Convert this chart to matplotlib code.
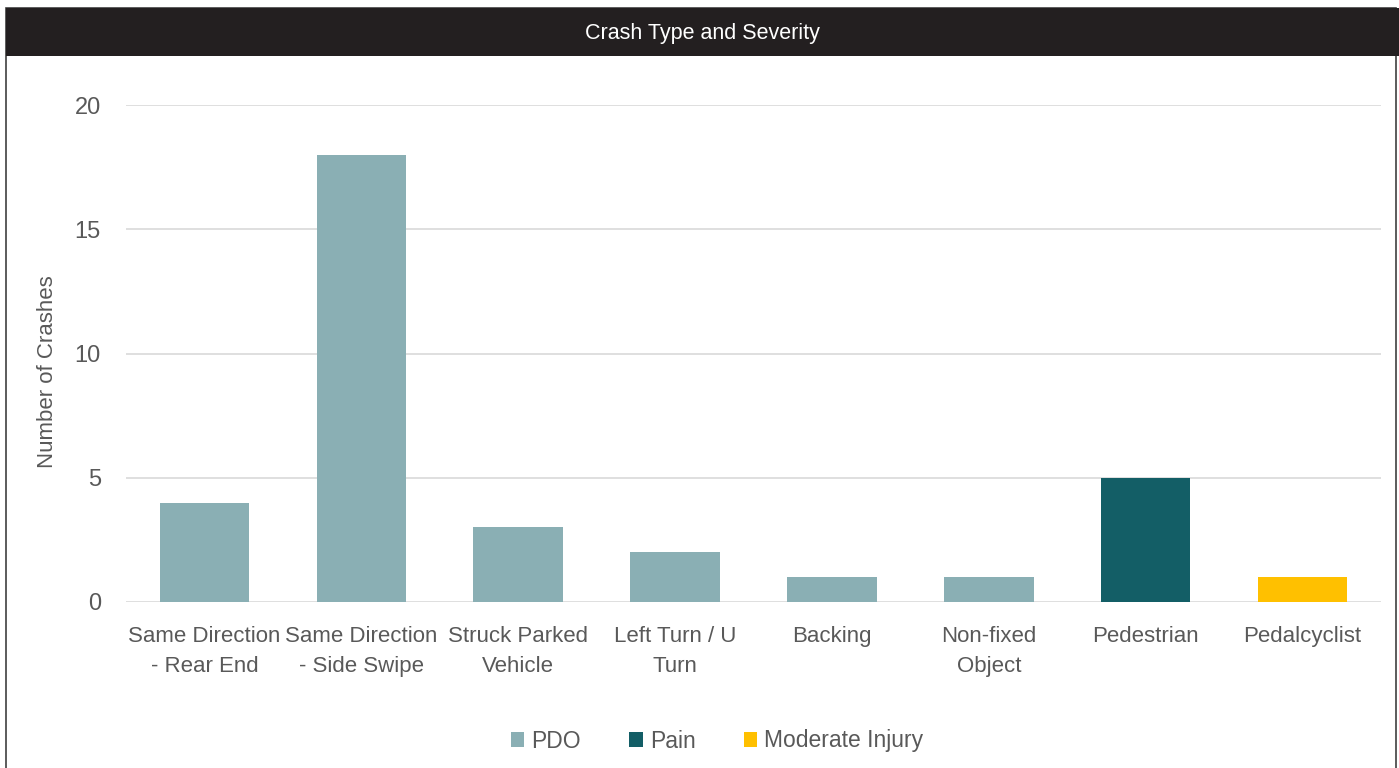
import matplotlib
matplotlib.use("Agg")
import matplotlib.pyplot as plt
from matplotlib import font_manager
from matplotlib.patches import Rectangle
import numpy as np

# =========================
# DATA
# =========================
categories = [
    "Same Direction\n- Rear End", "Same Direction\n- Side Swipe", "Struck Parked\nVehicle",
    "Left Turn / U\nTurn", "Backing", "Non-fixed\nObject", "Pedestrian", "Pedalcyclist",
]
pdo = [4, 18, 3, 2, 1, 1, 0, 0]
pain = [0, 0, 0, 0, 0, 0, 5, 0]
moderate = [0, 0, 0, 0, 0, 0, 0, 1]
series_names = ["PDO", "Pain", "Moderate Injury"]
colors = ["#8AAFB4", "#135E66", "#FFC000"]
y_ticks = [0, 5, 10, 15, 20]

# pick a narrow font if there is one
names = {f.name for f in font_manager.fontManager.ttflist}
font = "Liberation Sans Narrow" if "Liberation Sans Narrow" in names else "Liberation Sans"
plt.rcParams["font.family"] = [font, "DejaVu Sans"]
text_color = "#595959"

fig = plt.figure(figsize=(13.99, 7.68), dpi=100)
W, H = 1399, 768

# outer border and title bar (behind the axes)
fig.patches.append(Rectangle((6 / W, -0.01), 1390 / W, 1.0 - 8 / H + 0.01,
                             transform=fig.transFigure, facecolor="white",
                             edgecolor="#404040", linewidth=1.2, zorder=-10))
fig.patches.append(Rectangle((6 / W, 1 - 56 / H), 1393 / W, 48 / H,
                             transform=fig.transFigure, facecolor="#231F20",
                             edgecolor="none", zorder=-9))
fig.text(702 / W, 1 - 33 / H, "Crash Type and Severity", color="white",
         fontsize=15.5, ha="center", va="center")

ax = fig.add_axes([126 / W, 1 - 602 / H, 1255 / W, (602 - 105) / H])
ax.patch.set_alpha(0)
x = np.arange(len(categories))
bottom = np.zeros(len(categories))
for name, vals, c in zip(series_names, [pdo, pain, moderate], colors):
    ax.bar(x, vals, bottom=bottom, width=0.57, color=c, label=name, zorder=3)
    bottom += np.array(vals)

ax.set_xlim(-0.5, len(categories) - 0.5)
ax.set_ylim(0, 20)
ax.set_yticks(y_ticks)
ax.set_xticks(x)
ax.set_xticklabels(categories, fontsize=16, color=text_color, linespacing=1.6)
ax.tick_params(axis="y", labelsize=17, labelcolor=text_color, length=0, pad=18)
ax.tick_params(axis="x", length=0, pad=17)
ax.grid(axis="y", color="#D9D9D9", linewidth=1.2, zorder=0)
ax.set_axisbelow(True)
for s in ax.spines.values():
    s.set_visible(False)
ax.set_ylabel("Number of Crashes", fontsize=16, color=text_color)
ax.yaxis.set_label_coords(-0.054, 0.463)

leg = fig.legend(loc="center", bbox_to_anchor=(717 / W, 1 - 741 / H), ncol=3,
                 frameon=False, fontsize=16.5, handlelength=0.6, handleheight=0.6,
                 handletextpad=0.3, columnspacing=2.1)
for t in leg.get_texts():
    t.set_color(text_color)

fig.savefig("out.png", dpi=100)
